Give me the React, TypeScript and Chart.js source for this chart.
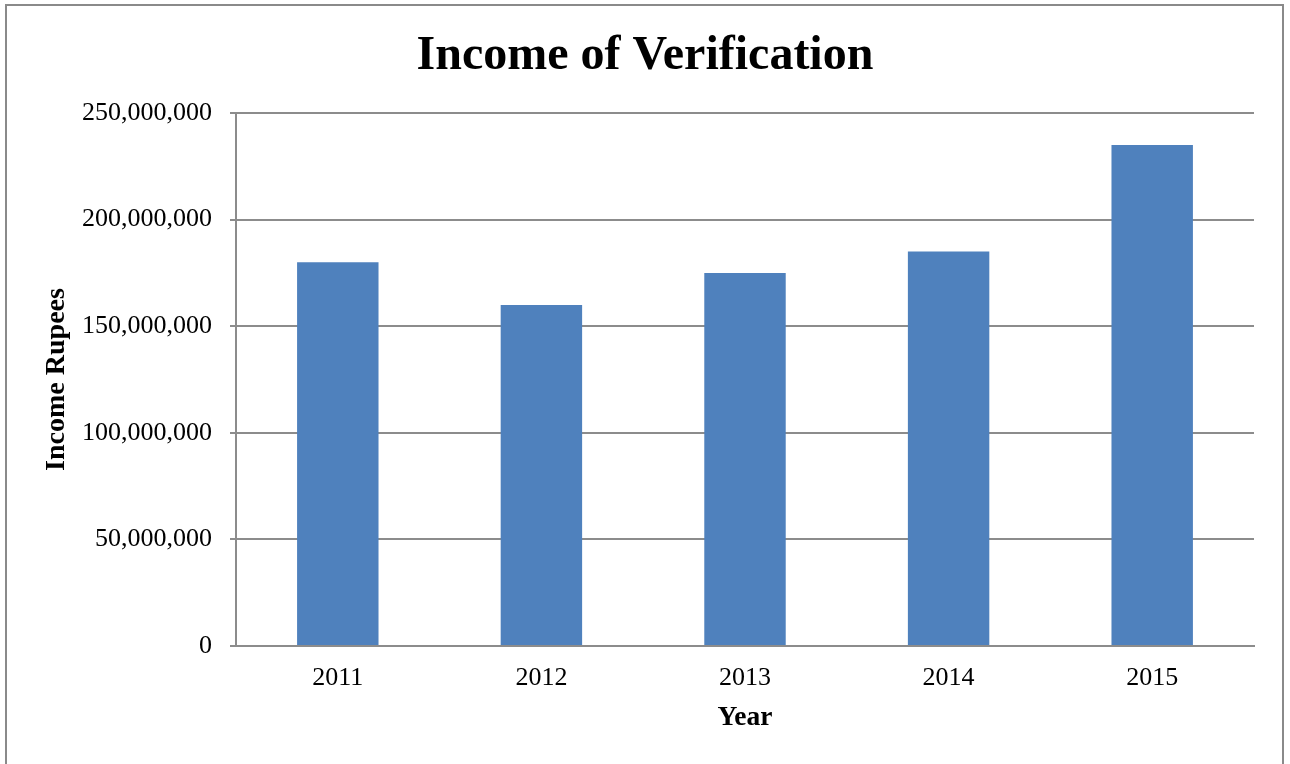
import React, { useEffect, useRef } from "react";
import { Chart, registerables } from "chart.js";

Chart.register(...registerables);

const categories: string[] = ["2011", "2012", "2013", "2014", "2015"];
const incomeValues: number[] = [180000000, 160000000, 175000000, 185000000, 235000000];
const chartTitle = "Income of Verification";
const xTitle = "Year";
const yTitle = "Income Rupees";

const SERIF = "'Liberation Serif', 'Times New Roman', serif";
const GRID = "#8c8c8c";

export default function App() {
  const ref = useRef<HTMLCanvasElement | null>(null);

  useEffect(() => {
    const canvas = ref.current;
    if (!canvas) return;
    const chart = new Chart(canvas, {
      type: "bar",
      data: {
        labels: categories,
        datasets: [
          {
            label: "Income",
            data: incomeValues,
            backgroundColor: "#4F81BD",
            borderWidth: 0,
            barPercentage: 0.4,
            categoryPercentage: 1,
            yAxisID: "y",
          },
        ],
      },
      options: {
        responsive: false,
        animation: false,
        devicePixelRatio: 1,
        layout: { padding: { left: 0, right: 0, top: 0, bottom: 0 } },
        plugins: {
          legend: { display: false },
          tooltip: { enabled: false },
          title: {
            display: true,
            text: chartTitle,
            color: "#000",
            font: { family: SERIF, size: 48, weight: "bold", lineHeight: 1.2 },
            padding: { top: 28, bottom: 27.4 },
          },
        },
        scales: {
          x: {
            grid: { display: false, drawTicks: false },
            border: { display: true, color: GRID, width: 2 },
            ticks: {
              color: "#000",
              font: { family: SERIF, size: 26 },
              padding: 17,
              maxRotation: 0,
            },
            title: {
              display: true,
              text: xTitle,
              color: "#000",
              font: { family: SERIF, size: 27.5, weight: "bold", lineHeight: 1.2 },
              padding: { top: 0, bottom: 30 },
            },
            afterFit: (scale: any) => {
              scale.height = 118;
            },
          },
          y: {
            min: 0,
            max: 250000000,
            grid: { color: GRID, lineWidth: 2, tickLength: 6, drawTicks: true },
            border: { display: true, color: GRID, width: 2 },
            ticks: {
              stepSize: 50000000,
              color: "#000",
              font: { family: SERIF, size: 26 },
              padding: 18,
              callback: (v: any) => Number(v).toLocaleString("en-US"),
            },
            title: {
              display: true,
              text: yTitle,
              color: "#000",
              font: { family: SERIF, size: 28, weight: "bold", lineHeight: 1.2 },
              padding: { top: 40, bottom: 0 },
            },
            afterFit: (scale: any) => {
              scale.width = 236;
            },
          },
          spacer: {
            type: "linear",
            position: "right",
            display: true,
            grid: { display: false, drawTicks: false },
            border: { display: false },
            ticks: { display: false },
            afterFit: (scale: any) => {
              scale.width = 36;
            },
          },
        },
      },
    });
    return () => chart.destroy();
  }, []);

  return (
    <div style={{ position: "fixed", left: 0, top: 0, width: 1290, height: 764, background: "#fff", overflow: "hidden" }}>
      <canvas ref={ref} width={1290} height={764} style={{ position: "absolute", left: 0, top: 0, width: 1290, height: 764 }} />
      <div
        style={{
          position: "absolute",
          left: 5,
          top: 4,
          width: 1275,
          height: 800,
          border: "2px solid #8a8a8a",
          pointerEvents: "none",
        }}
      />
    </div>
  );
}
